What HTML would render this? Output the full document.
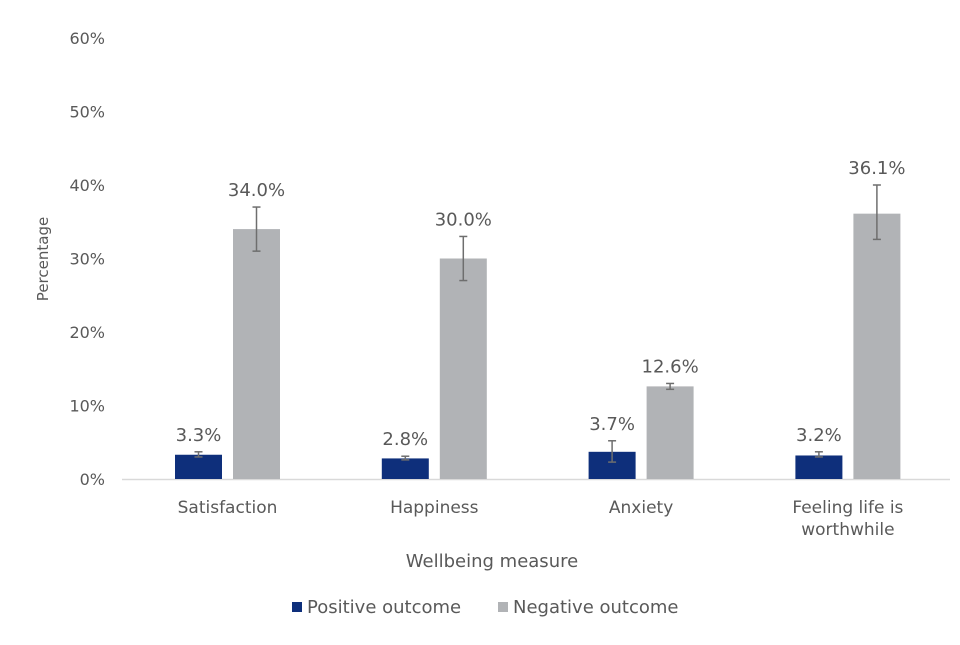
<!DOCTYPE html>
<html><head><meta charset="utf-8"><style>
body{margin:0;background:#fff;}
svg text{font-family:"DejaVu Sans","Liberation Sans",sans-serif;fill:#595959;}
</style></head><body>
<svg width="960" height="640" viewBox="0 0 960 640">
<g id="grid"></g>
<g id="bars"></g>
<text x="492" y="567" font-size="18" text-anchor="middle">Wellbeing measure</text>
<text transform="translate(48,259) rotate(-90)" font-size="15" text-anchor="middle">Percentage</text>
<g>
<rect x="292" y="602" width="10" height="10" fill="#0e2f7b"/>
<text x="307" y="613" font-size="18">Positive outcome</text>
<rect x="498" y="602" width="10" height="10" fill="#b1b3b6"/>
<text x="513" y="613" font-size="18">Negative outcome</text>
</g>
</svg>
<script>
const categories=[["Satisfaction"],["Happiness"],["Anxiety"],["Feeling life is","worthwhile"]];
const positive=[3.3,2.8,3.7,3.2];
const negative=[34.0,30.0,12.6,36.1];
const posLow=[3.0,2.6,2.3,3.0];
const posHigh=[3.7,3.1,5.2,3.7];
const negLow=[31.0,27.0,12.2,32.6];
const negHigh=[37.0,33.0,13.0,40.0];
const yTicks=[0,10,20,30,40,50,60];
const NS="http://www.w3.org/2000/svg";
const y0=479,pxPer=7.35;
function y(v){return y0-v*pxPer;}
function cx(i){return 227.5+i*206.8;}
function mk(t,a,parent){const e=document.createElementNS(NS,t);for(const k in a)e.setAttribute(k,a[k]);parent.appendChild(e);return e;}
const grid=document.getElementById('grid'),bars=document.getElementById('bars');
yTicks.forEach(t=>{
 const tx=mk('text',{x:105,y:y(t)+6,'font-size':16,'text-anchor':'end'},grid);
 tx.textContent=t+'%';
 
 
});
const ax=mk('line',{x1:122,x2:950,y1:y0+0.5,y2:y0+0.5,stroke:'#d9d9d9','stroke-width':1.5},grid);


function errbar(x,lo,hi){
 const g=mk('g',{stroke:'#6e6e6e','stroke-width':1.5},bars);
 
 
 mk('line',{x1:x,x2:x,y1:y(lo),y2:y(hi)},g);
 mk('line',{x1:x-4,x2:x+4,y1:y(lo),y2:y(lo)},g);
 mk('line',{x1:x-4,x2:x+4,y1:y(hi),y2:y(hi)},g);
}
categories.forEach((c,i)=>{
 const c0=cx(i),w=47;
 const px=c0-52.5, nx=c0+5.5;
 const r1=mk('rect',{x:px,y:y(positive[i]),width:w,height:positive[i]*pxPer,fill:'#0e2f7b'},bars);
 
 
 const r2=mk('rect',{x:nx,y:y(negative[i]),width:w,height:negative[i]*pxPer,fill:'#b1b3b6'},bars);
 
 
 errbar(px+w/2,posLow[i],posHigh[i]);
 errbar(nx+w/2,negLow[i],negHigh[i]);
 const l1=mk('text',{x:px+w/2,y:Math.min(y(positive[i]),y(posHigh[i]))-11,'font-size':18,'text-anchor':'middle'},bars);
 l1.textContent=positive[i].toFixed(1)+'%';
 
 
 const l2=mk('text',{x:nx+w/2,y:Math.min(y(negative[i]),y(negHigh[i]))-11,'font-size':18,'text-anchor':'middle'},bars);
 l2.textContent=negative[i].toFixed(1)+'%';
 
 
 c.forEach((line,j)=>{
  const t=mk('text',{x:c0,y:513+j*22,'font-size':17,'text-anchor':'middle'},bars);
  t.textContent=line;
  
  
 });
});
</script>
</body></html>
